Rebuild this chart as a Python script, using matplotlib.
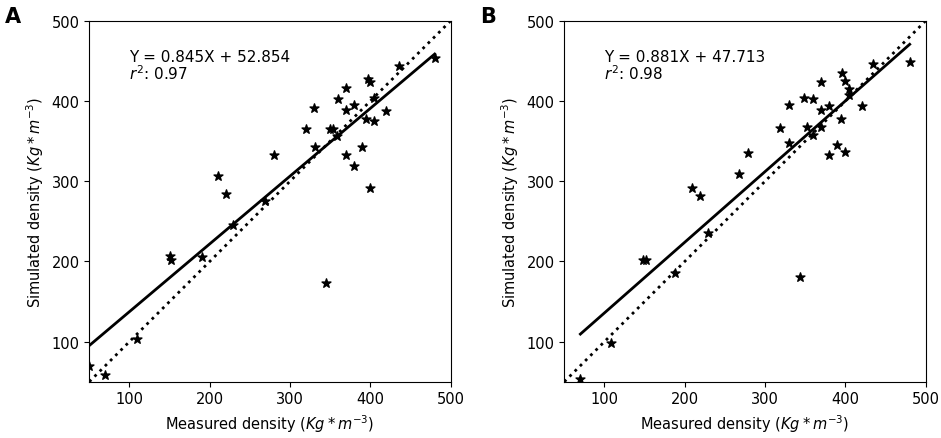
import matplotlib
matplotlib.use("Agg")
import matplotlib.pyplot as plt
import numpy as np

# panel A: measured vs simulated density
a_meas = [50, 70, 110, 150, 152, 190, 210, 220, 229, 269, 280, 320, 330, 331,
          345, 350, 354, 359, 360, 370, 370, 370, 380, 380, 390, 395, 397, 400,
          400, 405, 405, 420, 435, 480]
a_sim = [70, 58, 103, 207, 202, 205, 307, 284, 245, 275, 333, 365, 391, 343,
         173, 365, 365, 356, 403, 416, 389, 333, 395, 319, 342, 378, 427, 423,
         292, 404, 375, 388, 443, 453]
a_fit = (0.845, 52.854)
a_r2 = 0.97

# panel B
b_meas = [70, 108, 148, 152, 188, 209, 219, 229, 267, 279, 319, 330, 330, 344,
          349, 352, 360, 360, 369, 369, 369, 380, 380, 390, 395, 396, 400, 400,
          405, 405, 420, 434, 480]
b_sim = [54, 98, 202, 202, 186, 291, 282, 235, 309, 335, 366, 395, 347, 181,
         404, 367, 402, 357, 423, 389, 367, 394, 333, 345, 377, 435, 425, 336,
         415, 408, 394, 446, 449]
b_fit = (0.881, 47.713)
b_r2 = 0.98

plt.rcParams.update({"font.size": 10.5})
fig = plt.figure(figsize=(9.41, 4.39), dpi=100)
axA = fig.add_axes([0.0949, 0.1282, 0.3841, 0.8223])
axB = fig.add_axes([0.5997, 0.1282, 0.3841, 0.8223])

for ax, mx, sm, fit, r2, tag in [(axA, a_meas, a_sim, a_fit, a_r2, "A"),
                                 (axB, b_meas, b_sim, b_fit, b_r2, "B")]:
    ax.scatter(mx, sm, marker="*", s=45, color="black", zorder=3)
    xs = np.array([min(mx), max(mx)])
    ax.plot(xs, fit[0] * xs + fit[1], color="black", lw=2)
    ax.plot([50, 500], [50, 500], color="black", ls=":", lw=2)
    ax.set_xlim(50, 500); ax.set_ylim(50, 500)
    ax.set_xticks([100, 200, 300, 400, 500])
    ax.set_yticks([100, 200, 300, 400, 500])
    ax.text(100, 465, f"Y = {fit[0]:.3f}X + {fit[1]:.3f}\n$r^2$: {r2:.2f}",
            va="top", ha="left", linespacing=0.95, fontsize=11)
    ax.set_xlabel("Measured density ($Kg*m^{-3}$)")
    ax.set_ylabel("Simulated density ($Kg*m^{-3}$)")
    pos = ax.get_position()
    fig.text(pos.x0 - 0.09, 0.985, tag, fontsize=15, fontweight="bold",
             va="top", ha="left")

fig.savefig("out.png", dpi=100)
